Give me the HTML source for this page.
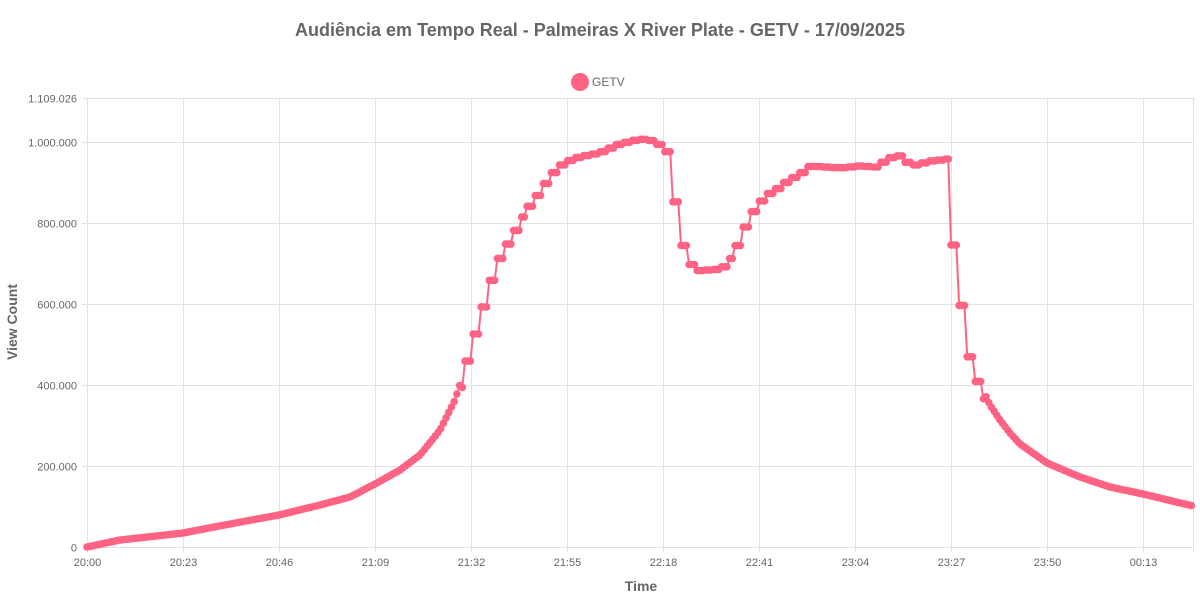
<!DOCTYPE html>
<html><head><meta charset="utf-8"><style>
html,body{margin:0;padding:0;background:#fff;width:1200px;height:600px;overflow:hidden}
svg{display:block;font-family:"Liberation Sans",Arial,sans-serif}
</style></head><body>
<svg id="s" width="1200" height="600" xmlns="http://www.w3.org/2000/svg">
<text x="600" y="36" text-anchor="middle" font-size="18" font-weight="bold" fill="#666">Audiência em Tempo Real - Palmeiras X River Plate - GETV - 17/09/2025</text>
<circle cx="580" cy="82" r="9" fill="#ff6384"/>
<text x="592" y="86" font-size="12" fill="#666">GETV</text>
<g id="grid" stroke="#e2e2e2" stroke-width="1"></g>
<g id="lab" font-size="11" fill="#666"></g>
<text x="641" y="591" text-anchor="middle" font-size="14" font-weight="bold" fill="#666">Time</text>
<text transform="translate(17,322) rotate(-90)" text-anchor="middle" font-size="14" font-weight="bold" fill="#666">View Count</text>
<polyline id="line" fill="none" stroke="#ff6384" stroke-width="2"/>
<g id="pts" fill="#ff6384"></g>
</svg>
<script>
var NS="http://www.w3.org/2000/svg";
function el(t,a,p){var e=document.createElementNS(NS,t);for(var k in a)e.setAttribute(k,a[k]);p.appendChild(e);return e;}
var g=document.getElementById('grid'),lab=document.getElementById('lab');
var ys=[[547.5,'0'],[466.5,'200.000'],[385.5,'400.000'],[304.5,'600.000'],[223.5,'800.000'],[142.5,'1.000.000'],[98.5,'1.109.026']];
ys.forEach(function(y){el('line',{x1:82,x2:1193,y1:y[0],y2:y[0]},g);var t=el('text',{x:77,y:y[0]+4,'text-anchor':'end'},lab);t.textContent=y[1];});
var xs=['20:00','20:23','20:46','21:09','21:32','21:55','22:18','22:41','23:04','23:27','23:50','00:13'];
xs.forEach(function(s,i){var x=87.5+i*96;el('line',{x1:x,x2:x,y1:98,y2:552},g);var t=el('text',{x:x,y:566,'text-anchor':'middle'},lab);t.textContent=s;});
el('line',{x1:1193.5,x2:1193.5,y1:98,y2:552},g);
var K=[[87,547],[120,540],[183,533],[230,524],[279,515],[320,505],[350,497],[375,484],[400,470],[420,455],[440,430],[455,400],[462,378],[470,351],[480,317],[488,290],[496,264],[504,249],[512,236],[520,221],[528,210],[536,200],[544,188],[552,176],[560,167],[567,162],[580,157],[600,153],[620,144],[640,139],[650,140],[660,145],[666,146],[672,180],[680,238],[688,258],[694,271],[720,269],[728,263],[738,248],[746,229],[754,213],[762,202],[770,194],[780,188],[790,180],[800,175],[810,167],[812,166],[840,168],[860,166],[875,167],[890,158],[898,155],[906,162],[915,165],[930,161],[940,160],[946,159],[950,159],[955,245],[964,313],[972,363],[980,384],[990,405],[1000,420],[1010,433],[1020,444],[1047,463],[1080,477],[1110,487],[1143,494],[1193,506]];
function f(x){for(var i=1;i<K.length;i++){if(x<=K[i][0]){var a=K[i-1],b=K[i];return a[1]+(b[1]-a[1])*(x-a[0])/(b[0]-a[0]);}}return K[K.length-1][1];}
var pts=[],P=document.getElementById('pts');
for(var x=87;x<=1193;x+=2.7){var y;
 if(x>=462&&x<=986){var xq=87+Math.floor((x-87)/8)*8+4;y=f(xq);}else y=f(x);
 pts.push(x.toFixed(1)+','+y.toFixed(1));el('circle',{cx:x.toFixed(1),cy:y.toFixed(1),r:3.8},P);}
document.getElementById('line').setAttribute('points',pts.join(' '));
</script>
</body></html>
